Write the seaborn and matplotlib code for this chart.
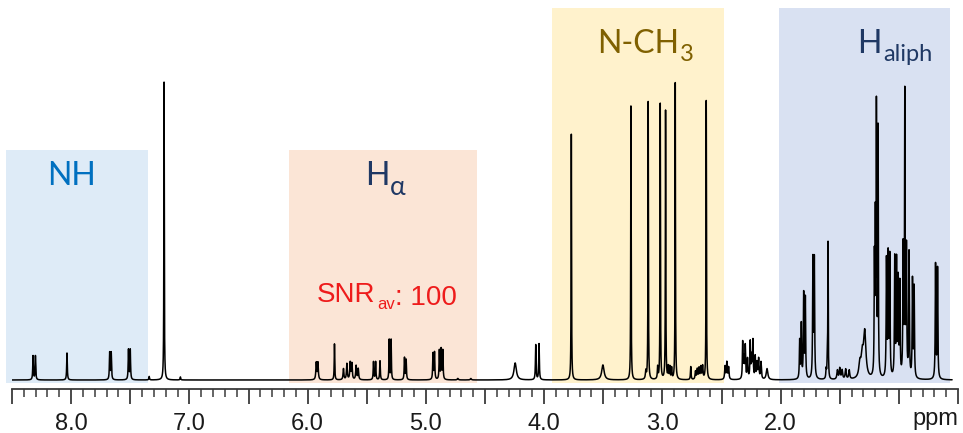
import numpy as np
import pandas as pd
import matplotlib
matplotlib.use("Agg")
import matplotlib.pyplot as plt
import seaborn as sns

# ---------------- data ----------------
# peak positions (ppm), heights (arb. units), half widths (ppm)
nh_ppm    = [8.322, 8.302, 8.035, 7.674, 7.661, 7.515, 7.500, 7.340, 7.214, 7.076]
nh_height = [24, 24, 27, 27, 27, 30, 30, 3.5, 298, 3]
nh_width  = [0.003, 0.003, 0.003, 0.003, 0.003, 0.003, 0.003, 0.003, 0.002, 0.003]

ha_ppm    = [5.927, 5.913, 5.773, 5.697, 5.668, 5.640, 5.626, 5.590, 5.572,
             5.443, 5.425, 5.388, 5.310, 5.294, 5.181, 5.167,
             4.940, 4.927, 4.886, 4.871, 4.857, 4.730, 4.620]
ha_height = [17, 17, 36, 11, 16, 17, 16, 14, 11,
             18, 18, 19, 40, 40, 22, 20,
             26, 27, 29, 30, 29, 1.5, 1.5]
ha_width  = [0.004, 0.004, 0.0025, 0.004, 0.004, 0.004, 0.004, 0.004, 0.004,
             0.003, 0.003, 0.003, 0.0025, 0.0025, 0.003, 0.003,
             0.003, 0.003, 0.003, 0.003, 0.003, 0.005, 0.005]

mid_ppm    = [4.245, 4.071, 4.043, 3.770, 3.503, 3.266, 3.140, 3.120, 3.040,
              3.018, 2.973, 2.950, 2.937, 2.922, 2.891, 2.760, 2.720, 2.705,
              2.690, 2.675, 2.660, 2.629, 2.470, 2.455, 2.440]
mid_height = [17, 35, 36, 246, 15, 274, 8, 278, 12,
              276, 269, 12, 12, 11, 297, 13, 8, 10,
              11, 12, 13, 279, 13, 17, 12]
mid_width  = [0.012, 0.003, 0.003, 0.002, 0.012, 0.002, 0.004, 0.002, 0.003,
              0.002, 0.002, 0.003, 0.003, 0.003, 0.002, 0.003, 0.004, 0.004,
              0.004, 0.004, 0.004, 0.002, 0.004, 0.004, 0.004]

cl_ppm    = [2.321, 2.310, 2.299, 2.280, 2.257, 2.245, 2.234, 2.215, 2.200,
             2.186, 2.166, 2.115]
cl_height = [36, 20, 32, 20, 36, 22, 37, 22, 16, 20, 17, 11]
cl_width  = [0.003, 0.004, 0.003, 0.004, 0.003, 0.004, 0.003, 0.003, 0.004,
             0.004, 0.004, 0.008]

al_ppm    = [1.839, 1.825, 1.805, 1.791, 1.727, 1.715, 1.615, 1.605, 1.599,
             1.520, 1.500, 1.480, 1.450, 1.420, 1.330, 1.310, 1.289,
             1.207, 1.199, 1.190, 1.176,
             1.105, 1.091, 1.077, 1.035, 1.020, 1.006, 0.992,
             0.964, 0.950, 0.936, 0.914, 0.885, 0.871,
             0.690, 0.673]
al_height = [38, 54, 84, 80, 118, 118, 9, 20, 134,
             9, 11, 9, 10, 9, 14, 20, 46,
             112, 145, 262, 245,
             116, 120, 120, 118, 114, 95, 92,
             128, 280, 126, 124, 97, 90,
             114, 110]
al_width  = [0.003, 0.003, 0.003, 0.003, 0.003, 0.003, 0.003, 0.003, 0.002,
             0.005, 0.005, 0.005, 0.005, 0.005, 0.010, 0.010, 0.012,
             0.0025, 0.0025, 0.0025, 0.0025,
             0.003, 0.003, 0.003, 0.003, 0.003, 0.003, 0.003,
             0.003, 0.0025, 0.003, 0.003, 0.003, 0.003,
             0.003, 0.003]

tick_values = [8.0, 7.0, 6.0, 5.0, 4.0, 3.0, 2.0]

# ---------------- spectrum from the peak list ----------------
pos = np.array(nh_ppm + ha_ppm + mid_ppm + cl_ppm + al_ppm)
hgt = np.array(nh_height + ha_height + mid_height + cl_height + al_height, float)
wid = np.array(nh_width + ha_width + mid_width + cl_width + al_width)

ppm = np.linspace(8.52, 0.55, 60000)
spec = np.zeros_like(ppm)
for p, h, w in zip(pos, hgt, wid):
    spec += h * w**2 / ((ppm - p) ** 2 + w**2)
df = pd.DataFrame({"ppm": ppm, "intensity": spec})

# ---------------- figure ----------------
sns.set_style("white")
plt.rcParams["font.family"] = ["Liberation Sans", "DejaVu Sans"]

W, H = 963, 433
fig = plt.figure(figsize=(W / 100, H / 100), dpi=100)
ax = fig.add_axes([12 / W, 44 / H, (958 - 12) / W, 389 / H])

# shaded regions
regions = [
    (8.55, 7.35, 230, "#deebf7"),
    (6.157, 4.566, 230, "#fbe5d6"),
    (3.93, 2.476, 372, "#fff2cc"),
    (2.01, 0.564, 372, "#d9e1f2"),
]
for x0, x1, top, col in regions:
    ax.fill_between([x0, x1], -3, top, color=col, lw=0, zorder=0, clip_on=False)

sns.lineplot(data=df, x="ppm", y="intensity", estimator=None, sort=False,
             color="black", lw=1.1, ax=ax, zorder=3)

ax.set_xlim(8.5, 0.5)
ax.set_ylim(-9, 380)
ax.set_xlabel("")
ax.set_ylabel("")
ax.set_yticks([])

major = np.arange(0.5, 8.51, 0.5)
ax.set_xticks(major)
ax.set_xticklabels([f"{v:.1f}" if any(abs(v - t) < 1e-6 for t in tick_values) else ""
                    for v in major])
ax.set_xticks(np.arange(0.5, 8.51, 0.1), minor=True)
ax.tick_params(axis="x", which="major", direction="out", length=11, width=1.3,
               color="#3a3a3a", labelsize=17, pad=6, bottom=True, labelcolor="#1a1a1a")
ax.tick_params(axis="x", which="minor", direction="out", length=6, width=1.1,
               color="#3a3a3a", bottom=True)
for s in ["left", "right", "top"]:
    ax.spines[s].set_visible(False)
ax.spines["bottom"].set_color("#3a3a3a")
ax.spines["bottom"].set_linewidth(1.3)
ax.patch.set_alpha(0)

fig.text(935 / W, 1 - 419 / H, "ppm", ha="center", va="center", fontsize=17,
         color="#1a1a1a")

# region labels
lab = ["Lato", "DejaVu Sans"]
navy = "#1f3864"
ax.text(8.206, 195, "NH", fontsize=23, family=lab, color="#0070c0",
        ha="left", va="baseline")

t = ax.text(5.51, 195, "H", fontsize=23, family=lab, color=navy,
            ha="left", va="baseline")
ax.annotate("α", xy=(1, 0), xycoords=t, xytext=(0, -3), textcoords="offset points",
            fontsize=19, family=lab, color=navy, ha="left", va="baseline")

red = "#ee1c1c"
t = ax.text(5.92, 78.3, "SNR", fontsize=20, color=red, ha="left", va="baseline")
t2 = ax.annotate("av", xy=(1, 0), xycoords=t, xytext=(1, -1), textcoords="offset points",
                 fontsize=12, color=red, ha="left", va="baseline")
ax.annotate(": 100", xy=(1, 0), xycoords=t2, xytext=(0, 5), textcoords="offset points",
            fontsize=20, color=red, ha="left", va="baseline")

t = ax.text(3.553, 326.7, "N-CH", fontsize=23, family=lab, color="#7f6000",
            ha="left", va="baseline")
ax.annotate("3", xy=(1, 0), xycoords=t, xytext=(1, -1), textcoords="offset points",
            fontsize=17, family=lab, color="#7f6000", ha="left", va="baseline")

t = ax.text(1.354, 326.7, "H", fontsize=23, family=lab, color=navy,
            ha="left", va="baseline")
ax.annotate("aliph", xy=(1, 0), xycoords=t, xytext=(1, -1), textcoords="offset points",
            fontsize=17, family=lab, color=navy, ha="left", va="baseline")

fig.savefig("out.png", dpi=100)
